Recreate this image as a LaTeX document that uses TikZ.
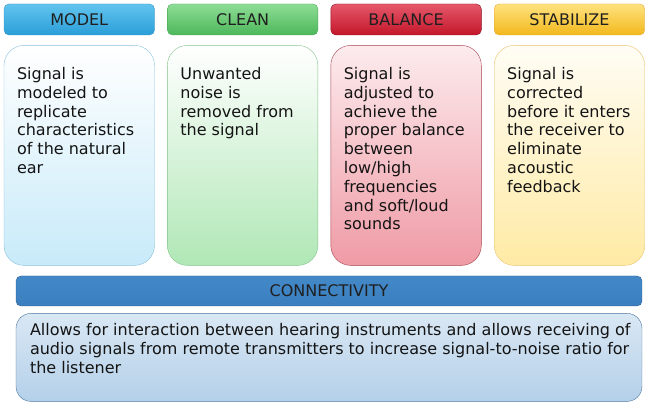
\documentclass[tikz,border=0pt]{standalone}
\usepackage{fontspec}
\setmainfont{DejaVu Sans}
\usetikzlibrary{positioning}

\definecolor{modeltop}{HTML}{62C4EE}
\definecolor{modelbot}{HTML}{2A9ED8}
\definecolor{modelline}{HTML}{3A94C4}
\definecolor{cleantop}{HTML}{8EDD96}
\definecolor{cleanbot}{HTML}{4DB75A}
\definecolor{cleanline}{HTML}{4FA85A}
\definecolor{baltop}{HTML}{E5586A}
\definecolor{balbot}{HTML}{C4162A}
\definecolor{balline}{HTML}{8E1020}
\definecolor{stabtop}{HTML}{FFE27E}
\definecolor{stabbot}{HTML}{F2B81C}
\definecolor{stabline}{HTML}{E0A830}
\definecolor{conntop}{HTML}{4389C8}
\definecolor{connbot}{HTML}{3A7EBE}
\definecolor{connline}{HTML}{2C5E8E}

\tikzset{
  headbox/.style={draw, rounded corners=5pt, minimum width=150.5pt, minimum height=31pt,
    inner sep=0pt, font=\fontsize{16}{19}\selectfont, text=black!88},
  bodybox/.style={draw, rounded corners=20pt, minimum width=150.5pt, minimum height=220pt, inner sep=0pt},
  bodytext/.style={anchor=north west, align=left, inner sep=0pt, text=black!92,
    font=\fontsize{16}{18.8}\selectfont},
}

\begin{document}
\begin{tikzpicture}[x=1pt, y=1pt]
  \useasboundingbox (0,0) rectangle (650,409);
  % top row of titles
  \node[headbox, draw=modelline, top color=modeltop, bottom color=modelbot] (model) at (79.25,389.5) {MODEL};
  \node[headbox, draw=cleanline, top color=cleantop, bottom color=cleanbot] (clean) [right=12.5pt of model] {CLEAN};
  \node[headbox, draw=balline, top color=baltop, bottom color=balbot] (balance) [right=12.5pt of clean] {BALANCE};
  \node[headbox, draw=stabline, top color=stabtop, bottom color=stabbot] (stabilize) [right=12.5pt of balance] {STABILIZE};
  % boxes under the titles
  \node[bodybox, draw=modelline!60, top color=white, bottom color=modeltop!35] (modelbody) [below=10pt of model] {};
  \node[bodybox, draw=cleanline!70, top color=white, bottom color=cleantop!70] (cleanbody) [below=10pt of clean] {};
  \node[bodybox, draw=balline!80, top color=baltop!12, bottom color=baltop!60] (balancebody) [below=10pt of balance] {};
  \node[bodybox, draw=stabline!70, top color=stabtop!8, bottom color=stabtop!70] (stabilizebody) [below=10pt of stabilize] {};
  \node[bodytext] (modeltext) at ([shift={(13,-22)}]modelbody.north west)
    {Signal is\\modeled to\\replicate\\characteristics\\of the natural\\ear};
  \node[bodytext] (cleantext) at ([shift={(13,-22)}]cleanbody.north west)
    {Unwanted\\noise is\\removed from\\the signal};
  \node[bodytext] (balancetext) at ([shift={(13,-22)}]balancebody.north west)
    {Signal is\\adjusted to\\achieve the\\proper balance\\between\\low/high\\frequencies\\and soft/loud\\sounds};
  \node[bodytext] (stabilizetext) at ([shift={(13,-22)}]stabilizebody.north west)
    {Signal is\\corrected\\before it enters\\the receiver to\\eliminate\\acoustic\\feedback};
  % connectivity
  \node[draw=connline, rounded corners=5pt, top color=conntop, bottom color=connbot,
    minimum width=626pt, minimum height=30pt, inner sep=0pt,
    font=\fontsize{16}{19}\selectfont, text=black!88] (connect) at (329,118) {CONNECTIVITY};
  \node[draw=connline!85, rounded corners=15pt, top color=conntop!20, bottom color=conntop!40,
    minimum width=626pt, minimum height=88pt, inner sep=0pt] (connectbody) [below=7pt of connect] {};
  \node[bodytext, font=\fontsize{16}{19}\selectfont] (connecttext) at ([shift={(14,-10)}]connectbody.north west)
    {Allows for interaction between hearing instruments and allows receiving of\\audio signals from remote transmitters to increase signal-to-noise ratio for\\the listener};
\end{tikzpicture}
\end{document}
